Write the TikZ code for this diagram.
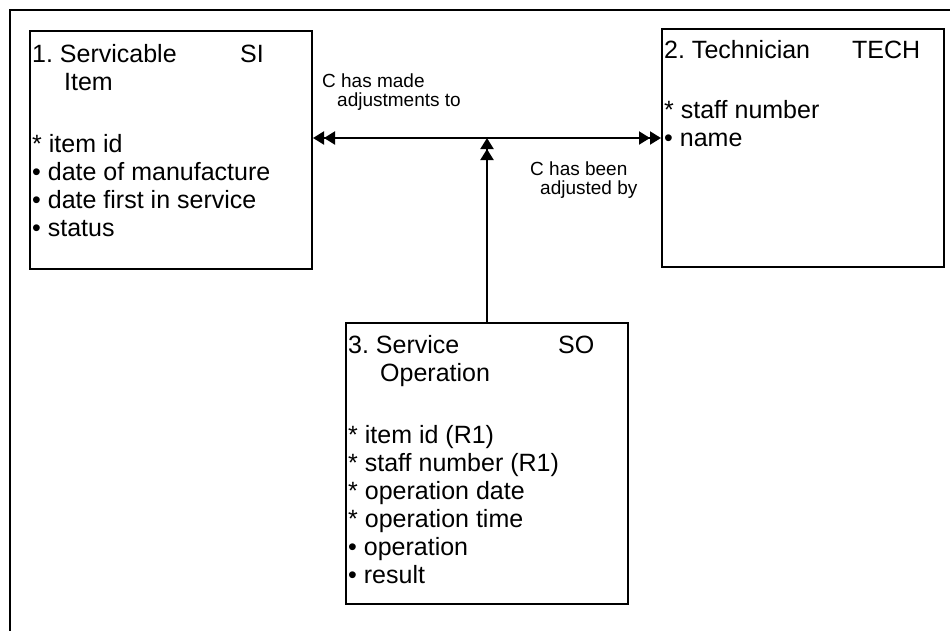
\documentclass[tikz,border=0pt]{standalone}
\usepackage{fontspec}
\setmainfont{Liberation Sans}
\usepackage{tikz}
\usetikzlibrary{arrows.meta,positioning}
\frenchspacing
\tikzset{
  entity/.style={draw, line width=2pt, anchor=north west, inner sep=0pt,
    minimum width=282pt, minimum height=238pt},
  attrs/.style={anchor=north west, align=left, inner sep=0pt,
    font=\fontsize{25}{28}\selectfont},
  note/.style={anchor=north west, align=left, inner sep=0pt,
    font=\fontsize{19}{19}\selectfont},
  rel/.style={line width=2pt, {Triangle[length=11pt, width=13pt] Triangle[length=11pt, width=13pt]}-{Triangle[length=11pt, width=13pt] Triangle[length=11pt, width=13pt]}},
  link/.style={line width=2pt, -{Triangle[length=11pt, width=13pt] Triangle[length=11pt, width=13pt]}}
}

\begin{document}
\begin{tikzpicture}[x=1pt, y=-1pt]
        \useasboundingbox (0,0) rectangle (950,630);
        \draw[line width=2.8pt] (10,10) rectangle (970,650);
        % entities
        \node[entity] (si) at (29,30) {};
        \node[entity] (tech) at (661,28) {};
        \node[entity, minimum height=281pt] (so) at (345,322) {};
        \node[attrs] (si-text) at ([shift={(3,14)}]si.north west)
          {\makebox[208pt][l]{1. Servicable}SI\\
           \hspace*{32pt}Item\\[34pt]
           * item id\\
           • date of manufacture\\
           • date first in service\\
           • status};
        \node[attrs] (tech-text) at ([shift={(3,12)}]tech.north west)
          {\makebox[188pt][l]{2. Technician}TECH\\[32pt]
           * staff number\\
           • name};
        \node[attrs] (so-text) at ([shift={(3,13)}]so.north west)
          {\makebox[210pt][l]{3. Service}SO\\
           \hspace*{32pt}Operation\\[34pt]
           * item id (R1)\\
           * staff number (R1)\\
           * operation date\\
           * operation time\\
           • operation\\
           • result};
        % relationship
        \coordinate (mid) at (so.north |- 0,138);
        \draw[rel] (mid -| si.east) -- (mid -| tech.west);
        \draw[link] (so.north) -- (mid);
        \node[note] (made) at (322,74) {C has made\\\hspace*{15pt}adjustments to};
        \node[note] (been) at (530,162) {C has been\\\hspace*{10pt}adjusted by};
    \end{tikzpicture}
\end{document}
